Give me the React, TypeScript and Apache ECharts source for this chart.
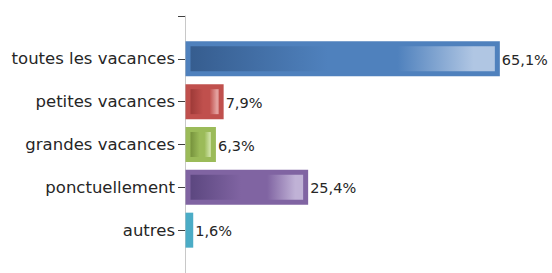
import React, { useEffect, useRef } from "react";
import * as echarts from "echarts";

// Categories (top to bottom); empty entries are the blank slots at the axis ends
const categories = ["", "toutes les vacances", "petites vacances", "grandes vacances", "ponctuellement", "autres", ""];
const barCategories = ["toutes les vacances", "petites vacances", "grandes vacances", "ponctuellement", "autres"];
const values = [65.1, 7.9, 6.3, 25.4, 1.6];

// Styles per bar: outer border colour, dark, mid and light gradient colours
const outerColors = ["#4f81bd", "#c0504d", "#9bbb59", "#8064a2", "#4bacc6"];
const darkColors = ["#365d8f", "#9e3a38", "#76923c", "#5c4780", "#31859c"];
const lightColors = ["#b0c6e3", "#e3a09e", "#cadfa0", "#c0b2d6", "#a0d4e3"];

const BAR_H = 35;
const BORDER = 5;
const FONT = "DejaVu Sans, Verdana, sans-serif";

export default function App() {
  const ref = useRef<HTMLDivElement>(null);

  useEffect(() => {
    document.body.style.margin = "0";
    if (!ref.current) return;
    const chart = echarts.init(ref.current, undefined, { renderer: "svg" });

    const data = values.map((v, i) => [v, barCategories[i], i]);

    const renderItem = (params: any, api: any) => {
      const v = api.value(0);
      const cat = api.value(1);
      const idx = params.dataIndex;
      const start = api.coord([0, cat]);
      const end = api.coord([v, cat]);
      const x0 = start[0] + 0.5;
      const w = end[0] - start[0];
      const yc = start[1];
      const y0 = yc - BAR_H / 2;
      const innerW = Math.max(0, w - 2 * BORDER);
      const fmt = v.toFixed(1).replace(".", ",") + "%";
      const children: any[] = [
        {
          type: "rect",
          shape: { x: x0, y: y0, width: w, height: BAR_H },
          style: { fill: outerColors[idx] },
        },
      ];
      if (innerW > 0) {
        children.push({
          type: "rect",
          shape: { x: x0 + BORDER, y: y0 + BORDER, width: innerW, height: BAR_H - 2 * BORDER },
          style: {
            fill: new echarts.graphic.LinearGradient(0, 0, 1, 0, [
              { offset: 0, color: darkColors[idx] },
              { offset: 0.45, color: outerColors[idx] },
              { offset: 0.68, color: outerColors[idx] },
              { offset: 0.93, color: lightColors[idx] },
              { offset: 1, color: lightColors[idx] },
            ]),
          },
        });
      }
      children.push({
        type: "text",
        style: {
          x: x0 + w + 2,
          y: yc + 1,
          text: fmt,
          fill: "#262626",
          fontSize: 14.5,
          fontFamily: FONT,
          verticalAlign: "middle",
          align: "left",
        },
      });
      return { type: "group", children };
    };

    chart.setOption({
      animation: false,
      grid: { left: 185, right: 29, top: 16, bottom: -4, containLabel: false },
      xAxis: { type: "value", min: 0, max: 70, show: false },
      yAxis: {
        type: "category",
        data: categories,
        inverse: true,
        boundaryGap: false,
        axisLine: { show: true, lineStyle: { color: "#c8c8c8", width: 1 } },
        axisTick: { show: true, length: 7, lineStyle: { color: "#404040", width: 1 } },
        axisLabel: {
          margin: 10,
          color: "#262626",
          fontSize: 16.5,
          fontFamily: FONT,
        },
        splitLine: { show: false },
      },
      series: [
        {
          type: "custom",
          renderItem,
          data,
          encode: { x: 0, y: 1 },
          clip: false,
        },
      ],
    });

    return () => chart.dispose();
  }, []);

  return <div ref={ref} style={{ width: 552, height: 273 }} />;
}
